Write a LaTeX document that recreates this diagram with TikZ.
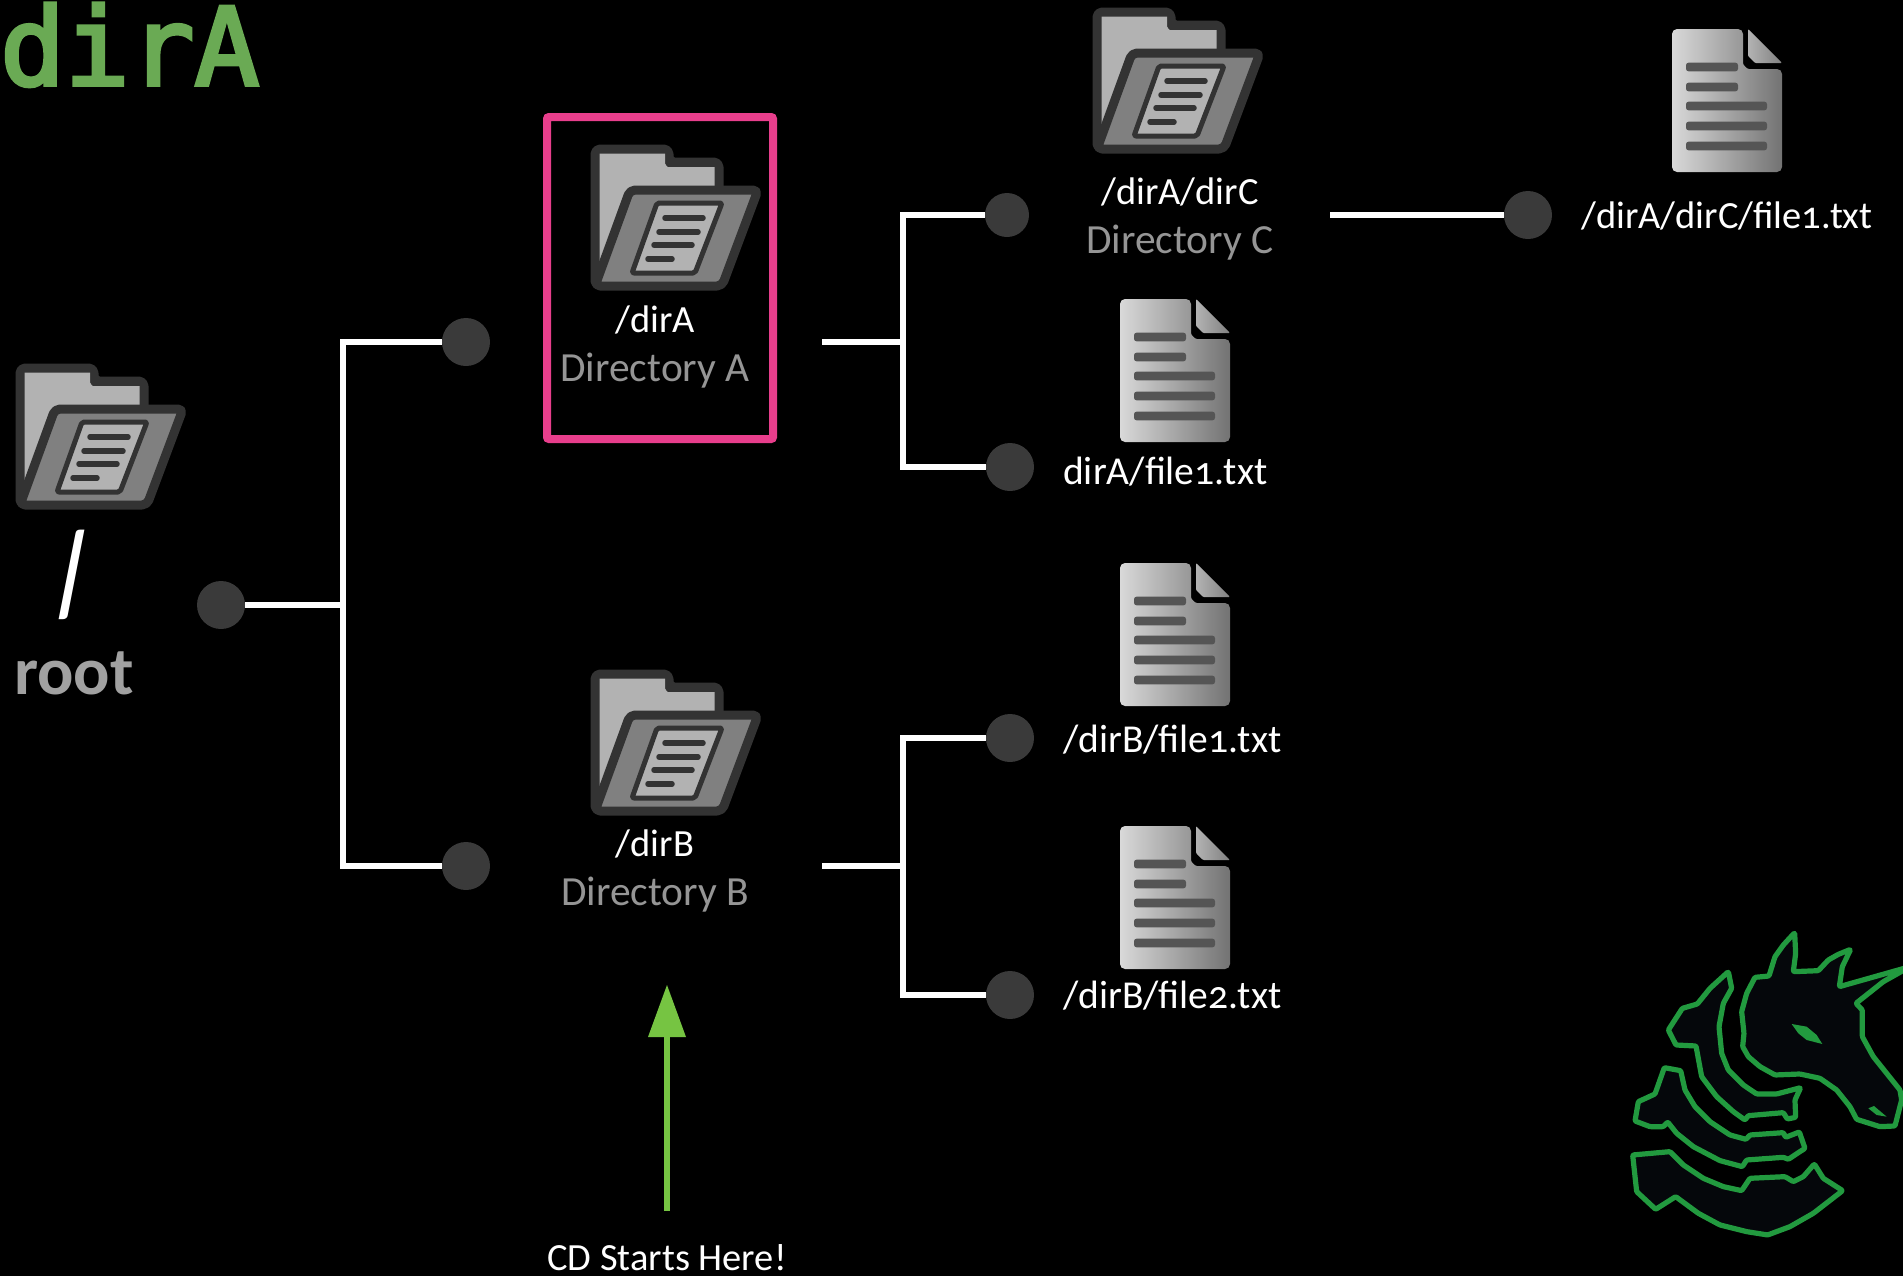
\documentclass[tikz,border=0pt]{standalone}
\usepackage{fontspec}
\setmainfont[Numbers=OldStyle]{Carlito}
\newfontfamily\titlefont[FakeBold=3.5]{DejaVu Sans Mono}
\definecolor{iconline}{HTML}{333333}
\definecolor{dotgray}{HTML}{3A3A3A}
\definecolor{subgray}{HTML}{959595}
\definecolor{pinkbox}{HTML}{E83E8C}
\definecolor{arrowgreen}{HTML}{76C442}
\definecolor{titlegreen}{HTML}{6AAA54}
\definecolor{logogreen}{HTML}{229A3F}
\definecolor{logofill}{HTML}{05070B}
\definecolor{docline}{HTML}{555555}
\tikzset{
  x=1bp,y=-1bp,
  dotnode/.style={circle,fill=dotgray,minimum size=48bp,inner sep=0pt,draw=none},
  wire/.style={draw=white,line width=5.5bp,line join=miter},
  pathtext/.style={text=white,font=\fontsize{39.7}{39.7}\selectfont,inner sep=0pt,anchor=base west},
  pathmid/.style={text=white,font=\fontsize{38.6}{38.6}\selectfont,inner sep=0pt,anchor=base},
  subtext/.style={text=subgray,font=\fontsize{41.6}{41.6}\selectfont,inner sep=0pt,anchor=base},
  logopart/.style={draw=logogreen,fill=logofill,line width=5.2bp,line join=round,rounded corners=1bp},
  folder/.pic={
    \fill[iconline,rounded corners=5bp,draw=iconline,line width=9bp,line join=round]
      (5,5)--(79,5)--(79,18)--(129,18)--(129,60)--(5,142)--cycle;
    \fill[fill=black!30] (9.5,9.5)--(75,9.5)--(75,20) to[out=90,in=180] (78,23) --(124.5,23)--(124.5,47)--(50,47)--(9.5,125)--cycle;
    \draw[fill=black!50,draw=iconline,line width=9bp,line join=round,rounded corners=5bp]
      (5,142)--(40,46)--(168,46)--(132,142)--cycle;
    \draw[fill=black!30,draw=iconline,line width=5bp,line join=round,rounded corners=2bp]
      (67,59)--(132,59)--(105,129)--(42,129)--cycle;
    \draw[iconline,line width=5.5bp,line cap=round]
      (75,74)--(113,74) (69,88)--(108,88) (64,101)--(102,101) (58,115)--(82,115);
  },
  filedoc/.pic={
    \shade[left color=black!15,right color=black!55,rounded corners=5bp]
      (0,0)--(71,0)--(71,29) .. controls (71,36) and (75,40) .. (82,40)--(110,40)--(110,143)--(0,143)--cycle;
    \shade[left color=black!30,right color=black!50,rounded corners=1bp]
      (76,0)--(110,34)--(83,34)--(76,27)--cycle;
    \foreach \yy/\xx in {38/66,58/66,77/95,97/95,117/95}
      \fill[docline,rounded corners=2.5bp] (14,\yy-4.3) rectangle (\xx,\yy+4.3);
  }
}
\begin{document}
\begin{tikzpicture}
\useasboundingbox (0,0) rectangle (1903,1275);
\fill[black] (0,-5) rectangle (1903,1290);
% title
\node[inner sep=0pt,anchor=base west,text=titlegreen,font=\titlefont\fontsize{108}{108}\selectfont] (title) at (0,85) {dirA};
% highlight box
\node[draw=pinkbox,line width=8bp,rounded corners=2bp,minimum width=226bp,minimum height=322bp,inner sep=0pt] (highlight) at (660,278) {};
% icons
\pic at (15,363) {folder};
\pic at (590,144) {folder};
\pic at (590,669) {folder};
\pic at (1092,7) {folder};
\pic at (1672,29) {filedoc};
\pic at (1120,299) {filedoc};
\pic at (1120,563) {filedoc};
\pic at (1120,826) {filedoc};
% dots
\node[dotnode] (droot) at (221,605) {};
\node[dotnode] (da) at (466,342) {};
\node[dotnode] (db) at (466,866) {};
\node[dotnode,minimum size=44bp] (dc) at (1007,215) {};
\node[dotnode] (dfa) at (1010,467) {};
\node[dotnode] (dfb1) at (1010,738) {};
\node[dotnode] (dfb2) at (1010,995) {};
\node[dotnode] (dfc) at (1528,215) {};
% connector anchors
\coordinate (jroot) at (343,605);
\coordinate (ja) at (822,342);
\coordinate (jaj) at (903,342);
\coordinate (jb) at (822,866);
\coordinate (jbj) at (903,866);
\coordinate (jc) at (1330,215);
% connectors
\draw[wire] (droot) -- (jroot);
\draw[wire] (da) -| (jroot) |- (db);
\draw[wire] (ja) -- (jaj);
\draw[wire] (dc) -| (jaj) |- (dfa);
\draw[wire] (jb) -- (jbj);
\draw[wire] (dfb1) -| (jbj) |- (dfb2);
\draw[wire] (jc) -- (dfc);
% arrow
\coordinate (arrowstart) at (667,1211);
\coordinate (arrowtip) at (667,985);
\coordinate (arrowneck) at (667,1037);
\draw[draw=arrowgreen,line width=6bp] (arrowstart) -- (arrowneck);
\fill[arrowgreen] (arrowtip) -- (686,1037) -- (648,1037) -- cycle;
% texts
\node[inner sep=0pt,anchor=base,text=white,font=\fontsize{122}{122}\selectfont,xslant=-0.25,transform shape] (slash) at (82,614) {/};
\node[inner sep=0pt,anchor=base west,text=black!37,font=\bfseries\fontsize{68}{68}\selectfont] (root) at (14,694) {root};
\node[pathmid] (ta) at (655,332) {/dirA};
\node[subtext] (tasub) at (655,381) {Directory A};
\node[pathmid] (tb) at (655,856) {/dirB};
\node[subtext] (tbsub) at (655,905) {Directory B};
\node[pathmid] (tc) at (1180,204) {/dirA/dirC};
\node[subtext] (tcsub) at (1180,253) {Directory C};
\node[pathtext,font=\fontsize{38.6}{38.6}\selectfont] (tcf) at (1581,228) {/dirA/dirC/file1.txt};
\node[pathtext] (taf) at (1063,484) {dirA/file1.txt};
\node[pathtext] (tbf1) at (1063,752) {/dirB/file1.txt};
\node[pathtext] (tbf2) at (1063,1008) {/dirB/file2.txt};
\node[inner sep=0pt,anchor=base,text=white,font=\fontsize{38.6}{38.6}\selectfont] (cd) at (667,1270) {CD Starts Here!};
% logo
\begin{scope}[shift={(1620,920)},x=0.3333bp,y=-0.3333bp]
\clip (-10,-10) rectangle (849,990);
\draw[logopart] (405,172)--(447,168)--(465,110)--(490,75)--(524,38)--(527,100)--(520,155)--(595,152)--(625,120)--(655,103)--(692,88)--(667,140)--(658,200)--(870,140)--(790,185)--(708,250)--(727,270)--(727,350)--(760,410)--(800,460)--(840,510)--(845,540)--(825,618)--(780,620)--(710,598)--(690,560)--(650,510)--(600,475)--(540,462)--(465,465)--(420,440)--(385,410)--(368,380)--(372,340)--(365,275)--(380,220)--cycle;
\fill[logogreen] (515,312)--(560,320)--(590,345)--(607,372)--(560,360)--(535,340)--cycle;
\fill[logogreen] (745,565)--(762,558)--(800,590)--(770,585)--cycle;
\draw[logopart] (325,155)--(335,205)--(310,250)--(297,320)--(305,400)--(325,450)--(370,495)--(410,522)--(470,522)--(542,503)--(525,540)--(527,592)--(502,597)--(490,578)--(385,587)--(375,600)--(340,575)--(290,530)--(245,470)--(228,378)--(168,375)--(145,330)--(187,265)--(232,252)--(270,205)--cycle;
\draw[logopart] (133,443)--(182,452)--(195,510)--(225,560)--(270,605)--(330,645)--(378,658)--(390,645)--(490,638)--(497,652)--(538,636)--(555,685)--(505,718)--(490,712)--(380,720)--(367,740)--(300,722)--(220,680)--(170,640)--(143,606)--(130,620)--(90,620)--(45,603)--(55,545)--(105,522)--cycle;
\draw[logopart] (38,705)--(150,695)--(190,735)--(250,775)--(310,800)--(365,812)--(390,775)--(495,770)--(520,785)--(550,770)--(583,732)--(610,775)--(668,812)--(580,880)--(510,920)--(443,945)--(380,935)--(300,915)--(235,880)--(167,830)--(107,868)--(50,815)--cycle;
\end{scope}
\end{tikzpicture}
\end{document}
